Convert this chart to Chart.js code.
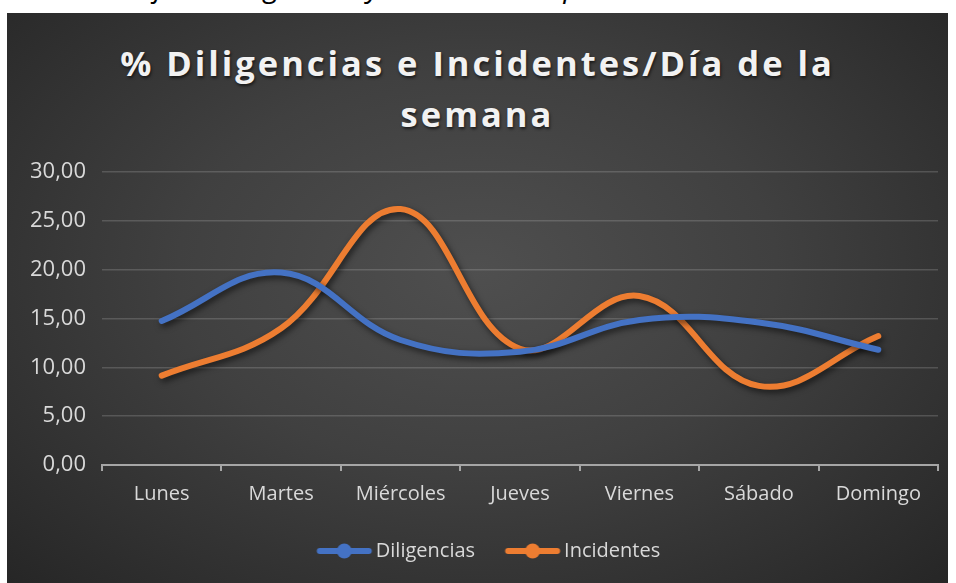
<!DOCTYPE html>
<html>
<head>
<meta charset="utf-8">
<script src="https://cdn.jsdelivr.net/npm/chart.js@4"></script>
<style>
  body { margin: 0; background: #fff; width: 956px; height: 583px; overflow: hidden; position: relative; font-family: 'Open Sans', sans-serif; }
  #caption { position: absolute; top: -31px; left: 40px; font-style: italic; font-size: 29px; line-height: 34px; color: #000; white-space: nowrap; }
  #box { position: absolute; left: 7px; top: 13px; width: 941px; height: 570px;
    background: radial-gradient(ellipse at 50% 45%, #4f4f4f 0%, #404040 45%, #262626 100%); }
  #title { position: absolute; left: 0; top: 24px; width: 100%; text-align: center; color: #f2f2f2;
    font-weight: bold; font-size: 34.5px; line-height: 51px; letter-spacing: 3px; text-shadow: 1px 2px 3px rgba(0,0,0,0.6); }
  canvas { position: absolute; left: 0; top: 0; }
</style>
</head>
<body>
<div id="caption">Porcentaje de Diligencias y de Incidentes por día de la semana</div>
<div id="box">
  <div id="title">% Diligencias e Incidentes/Día de la<br>semana</div>
  <canvas id="myChart" width="941" height="570"></canvas>
</div>
<script>
// Data
const labels = ['Lunes', 'Martes', 'Miércoles', 'Jueves', 'Viernes', 'Sábado', 'Domingo'];
const diligencias = [14.75, 19.7, 12.8, 11.6, 14.85, 14.6, 11.8];
const incidentes = [9.15, 14.0, 26.2, 11.9, 17.3, 8.1, 13.2];
const yTicks = [0, 5, 10, 15, 20, 25, 30];

const blue = '#4472C4';
const orange = '#ED7D31';

// legend marker: line with a dot in the middle
// (image is wider than the legend box, the line sits right of its centre)
function legendIcon(color) {
  const c = document.createElement('canvas');
  c.width = 80;
  c.height = 16;
  const g = c.getContext('2d');
  g.strokeStyle = color;
  g.lineWidth = 6;
  g.lineCap = 'round';
  g.beginPath();
  g.moveTo(21.5, 8);
  g.lineTo(70.5, 8);
  g.stroke();
  g.fillStyle = color;
  g.beginPath();
  g.arc(46, 8, 7.5, 0, Math.PI * 2);
  g.fill();
  return c;
}

const shadow = {
  id: 'shadow',
  beforeDatasetsDraw(chart) {
    const ctx = chart.ctx;
    ctx.save();
    ctx.shadowColor = 'rgba(0,0,0,0.6)';
    ctx.shadowBlur = 6;
    ctx.shadowOffsetX = 2;
    ctx.shadowOffsetY = 3;
  },
  afterDatasetsDraw(chart) {
    chart.ctx.restore();
  },
};

// Excel puts the legend a bit right of centre
const legendShift = {
  id: 'legendShift',
  afterUpdate(chart) {
    chart.legend.left += 13;
    chart.legend.right += 13;
  },
};

const data = {
  labels: labels,
  datasets: [
    { label: 'Diligencias', data: diligencias, borderColor: blue, backgroundColor: blue, legendIcon: legendIcon(blue) },
    { label: 'Incidentes', data: incidentes, borderColor: orange, backgroundColor: orange, legendIcon: legendIcon(orange) },
  ],
};

const config = {
  type: 'line',
  data: data,
  plugins: [shadow, legendShift],
  options: {
    responsive: false,
    animation: false,
    layout: { padding: { top: 159, right: 10, left: 0, bottom: 12 } },
    elements: {
      line: { borderWidth: 6, tension: 0.4, borderCapStyle: 'round' },
      point: { radius: 0, hoverRadius: 0 },
    },
    plugins: {
      tooltip: { enabled: false },
      legend: {
        position: 'bottom',
        labels: {
          color: '#d9d9d9',
          font: { family: 'Open Sans', size: 20 },
          usePointStyle: true,
          pointStyleWidth: 55,
          padding: 24,
          generateLabels(chart) {
            return chart.data.datasets.map((ds, i) => ({
              text: ds.label,
              pointStyle: ds.legendIcon,
              fontColor: '#d9d9d9',
              fillStyle: ds.borderColor,
              strokeStyle: ds.borderColor,
              lineWidth: 0,
              hidden: false,
              datasetIndex: i,
            }));
          },
        },
      },
    },
    scales: {
      x: {
        offset: true,
        grid: { display: true, drawOnChartArea: false, drawTicks: true, tickLength: 6, color: '#a6a6a6', lineWidth: 2, offset: true },
        border: { color: '#a6a6a6', width: 2 },
        ticks: { color: '#d9d9d9', font: { family: 'Open Sans', size: 20 }, padding: 11 },
      },
      y: {
        min: 0,
        max: 30,
        afterBuildTicks(scale) {
          scale.ticks = yTicks.map(v => ({ value: v }));
        },
        afterFit(scale) {
          scale.width = 95;
        },
        grid: { color: 'rgba(217,217,217,0.2)', lineWidth: 1.5, drawTicks: false },
        border: { display: false },
        ticks: {
          color: '#d9d9d9',
          font: { family: 'Open Sans', size: 22 },
          padding: 16,
          callback: v => v.toFixed(2).replace('.', ','),
        },
      },
    },
  },
};

const myChart = new Chart(document.getElementById('myChart'), config);
</script>
</body>
</html>
